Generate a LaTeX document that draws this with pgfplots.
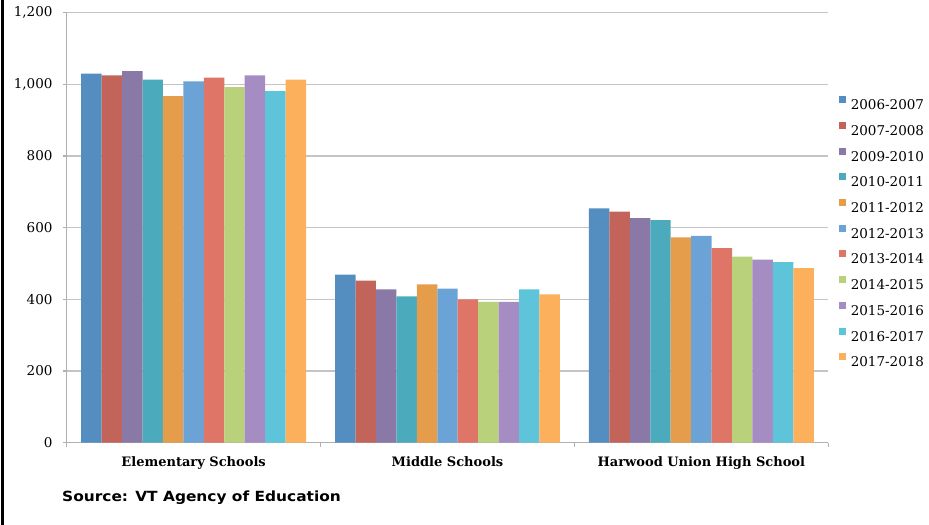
\documentclass[border=0pt]{standalone}
\usepackage{pgfplots}
\pgfplotsset{compat=1.18}
\usepackage{fontspec}
\setmainfont{DejaVu Serif}
\newfontfamily\srcfont[FakeStretch=1.1]{DejaVu Sans}
\definecolor{c1}{HTML}{548DBF}
\definecolor{c2}{HTML}{C2645A}
\definecolor{c3}{HTML}{8A78A6}
\definecolor{c4}{HTML}{4BABBD}
\definecolor{c5}{HTML}{E59D4B}
\definecolor{c6}{HTML}{6BA3D6}
\definecolor{c7}{HTML}{DE7567}
\definecolor{c8}{HTML}{B9D17A}
\definecolor{c9}{HTML}{A58CC3}
\definecolor{c10}{HTML}{5EC4DA}
\definecolor{c11}{HTML}{FDB05C}
\definecolor{gridc}{HTML}{C4C4C4}
\definecolor{axc}{HTML}{B0B0B0}
\newcommand{\tickfont}{\fontsize{13.5bp}{16bp}\selectfont}
\begin{document}
\begin{tikzpicture}
\path[use as bounding box] (-66.7bp,-82.3bp) rectangle (862.3bp,442.7bp);
\fill[black] (-65.7bp,-82.3bp) rectangle (-62.2bp,442.7bp);
\begin{axis}[
  at={(0bp,0bp)}, anchor=south west,
  scale only axis, width=761.6bp, height=430bp,
  xmin=-0.5, xmax=2.5, ymin=0, ymax=1200,
  axis lines=left, axis line style={-, axc, line width=1.2bp},
  ybar=0pt, bar width=0.0805,
  legend image code/.code={\fill[#1,draw=none] (0bp,1.5bp) rectangle (7bp,8.5bp);},
  ytick={0,200,400,600,800,1000,1200},
  ymajorgrids, grid style={gridc, line width=1.3bp},
  tick align=outside, major tick length=4bp,
  tick style={axc, line width=1.2bp},
  /pgf/number format/assume math mode=true,
  /pgf/number format/1000 sep={,},
  tick label style={font=\tickfont},
  yticklabel={\tickfont\pgfmathprintnumber{\tick}},
  yticklabel style={inner sep=0pt, xshift=-10bp},
  xtick={-0.5,0.5,1.5,2.5}, xticklabels={},
  extra x ticks={0,1,2},
  extra x tick labels={Elementary Schools, Middle Schools, Harwood Union High School},
  extra x tick style={major tick length=0pt, grid=none,
    xticklabel style={font=\bfseries\fontsize{13bp}{15bp}\selectfont, inner sep=0pt, anchor=north, yshift=-14bp}},
  legend cell align=left,
  legend style={at={(axis description cs:1.0138,0.8057)}, anchor=north west,
    draw=none, fill=none, inner sep=0pt, outer sep=0pt, row sep=12.2bp, column sep=5bp,
    nodes={inner sep=0pt, text height=10bp, text depth=0pt, font=\tickfont}},
]
\addplot[fill=c1, draw=none] coordinates {(0,1030) (1,469) (2,654)};
\addplot[fill=c2, draw=none] coordinates {(0,1025) (1,452) (2,645)};
\addplot[fill=c3, draw=none] coordinates {(0,1037) (1,428) (2,627)};
\addplot[fill=c4, draw=none] coordinates {(0,1013) (1,408) (2,621)};
\addplot[fill=c5, draw=none] coordinates {(0,967) (1,442) (2,573)};
\addplot[fill=c6, draw=none] coordinates {(0,1008) (1,430) (2,577)};
\addplot[fill=c7, draw=none] coordinates {(0,1019) (1,400) (2,543)};
\addplot[fill=c8, draw=none] coordinates {(0,992) (1,393) (2,519)};
\addplot[fill=c9, draw=none] coordinates {(0,1025) (1,393) (2,511)};
\addplot[fill=c10, draw=none] coordinates {(0,981) (1,428) (2,504)};
\addplot[fill=c11, draw=none] coordinates {(0,1013) (1,414) (2,487)};
\legend{2006-2007,2007-2008,2009-2010,2010-2011,2011-2012,2012-2013,2013-2014,2014-2015,2015-2016,2016-2017,2017-2018}
\end{axis}
\node[anchor=west, inner sep=0pt, font=\srcfont\bfseries\fontsize{14bp}{16bp}\selectfont] at (-4.7bp,-55bp) {Source: VT Agency of Education};
\end{tikzpicture}
\end{document}
